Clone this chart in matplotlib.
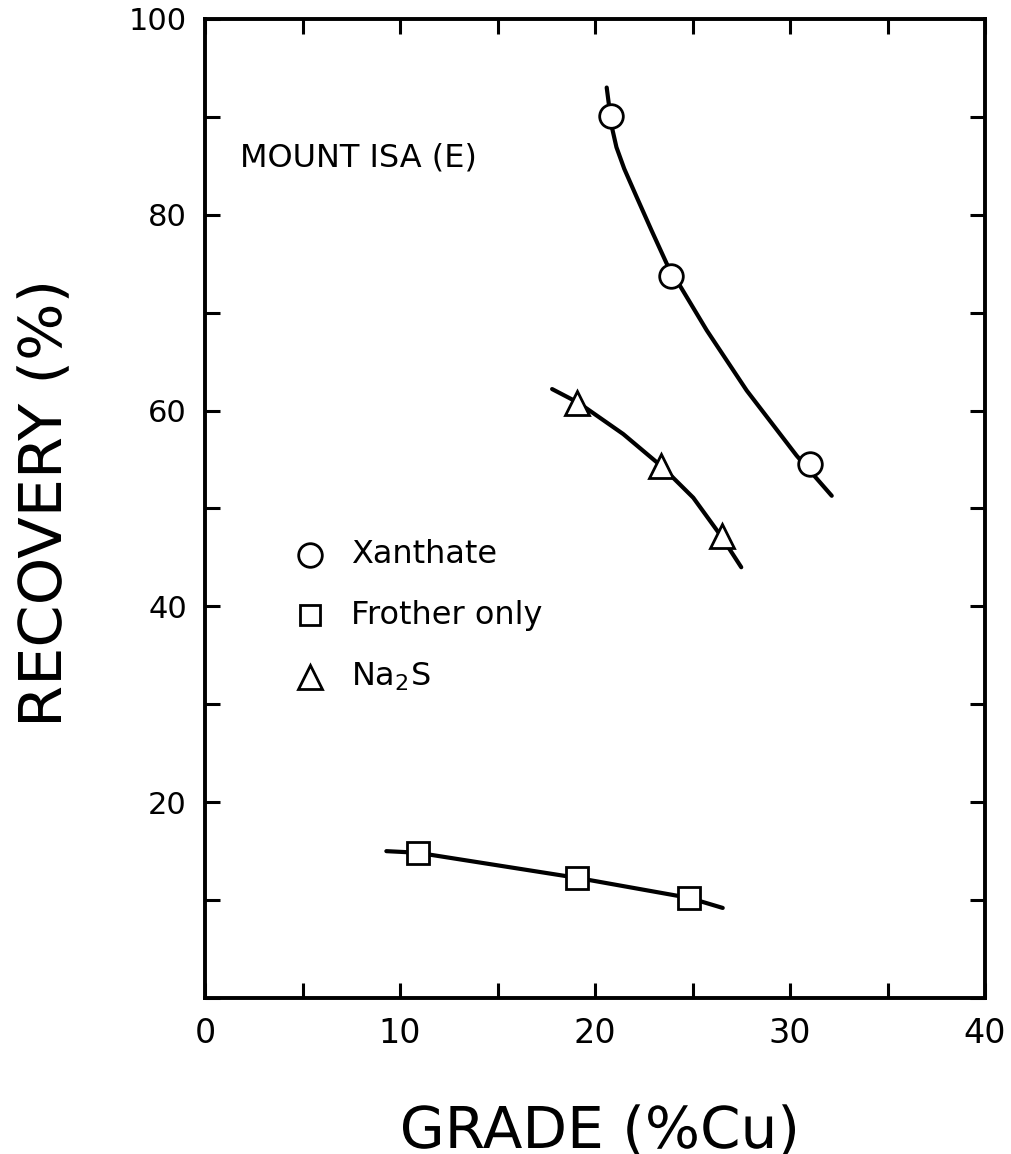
import numpy as np
import matplotlib
matplotlib.use("Agg")
import matplotlib.pyplot as plt
from matplotlib.textpath import TextPath
from matplotlib.patches import PathPatch
from matplotlib.font_manager import FontProperties
from matplotlib.transforms import Affine2D, IdentityTransform

# measured points (grade %Cu, recovery %)
xanthate_x = [20.8, 23.9, 31.0]
xanthate_y = [90.1, 73.7, 54.5]
frother_x = [10.9, 19.1, 24.8]
frother_y = [14.8, 12.3, 10.2]
na2s_x = [19.1, 23.4, 26.5]
na2s_y = [60.8, 54.3, 47.2]

# hand-drawn trend curves through the points
xanthate_curve_x = [20.6, 20.86, 21.1, 21.5, 22.14, 22.9, 23.68, 25.73, 27.78, 30.34, 32.14]
xanthate_curve_y = [93.0, 89.0, 86.9, 84.7, 81.8, 78.4, 75.0, 68.2, 62.05, 55.4, 51.3]
na2s_curve_x = [17.8, 19.15, 21.45, 23.42, 25.04, 26.46, 27.5]
na2s_curve_y = [62.2, 60.8, 57.6, 54.3, 51.1, 47.2, 44.0]
frother_curve_x = [9.3, 10.9, 19.06, 24.82, 26.55]
frother_curve_y = [15.0, 14.84, 12.28, 10.23, 9.2]

labels = ["Xanthate", "Frother only", "Na$_2$S"]
markers = ["o", "s", "^"]
xlabel = "GRADE (%Cu)"
ylabel = "RECOVERY (%)"
title = "MOUNT ISA (E)"

plt.rcParams["mathtext.default"] = "regular"
plt.rcParams["font.family"] = "DejaVu Sans"

W, H = 1012, 1154
fig = plt.figure(figsize=(W / 100, H / 100), dpi=100)
ax = fig.add_axes([205 / W, 1 - 998 / H, 780 / W, 979 / H])

CAP = 0.729  # DejaVu cap height per em


def squeezed_label(text, x0, y0, length, cap_px, rotate=False):
    """Draw text as a path stretched to a given length (pixels, top-left origin)."""
    tp = TextPath((0, 0), text, size=1, prop=FontProperties(family="DejaVu Sans"))
    ext = tp.get_extents()
    sy = cap_px / CAP
    sx = length / ext.width
    tr = Affine2D().translate(-ext.x0, 0).scale(sx, sy)
    if rotate:
        tr = tr.rotate_deg(90).translate(x0, H - y0)
    else:
        tr = tr.translate(x0, H - y0)
    patch = PathPatch(tr.transform_path(tp), facecolor="black", edgecolor="none",
                      transform=IdentityTransform())
    fig.add_artist(patch)


lw = 3.0
ax.plot(xanthate_curve_x, xanthate_curve_y, color="black", lw=lw, solid_capstyle="round",
        solid_joinstyle="round", zorder=2)
ax.plot(na2s_curve_x, na2s_curve_y, color="black", lw=lw, solid_capstyle="round",
        solid_joinstyle="round", zorder=2)
ax.plot(frother_curve_x, frother_curve_y, color="black", lw=lw, solid_capstyle="round",
        solid_joinstyle="round", zorder=2)

mkw = dict(linestyle="none", markerfacecolor="white", markeredgecolor="black",
           markeredgewidth=2.0, zorder=3)
ax.plot(xanthate_x, xanthate_y, marker="o", markersize=17, **mkw)
ax.plot(frother_x, frother_y, marker="s", markersize=16, **mkw)
ax.plot(na2s_x, na2s_y, marker="^", markersize=17, **mkw)

# legend, drawn by hand
leg_y = [45.3, 39.1, 32.8]
for lab, m, yy in zip(labels, markers, leg_y):
    ax.plot([5.4], [yy], marker=m, markersize=17 if m != "s" else 15, linestyle="none",
            markerfacecolor="white", markeredgecolor="black", markeredgewidth=2.0)
    ax.text(7.5, yy, lab, fontsize=23, va="center", ha="left")

ax.text(1.8, 85.8, title, fontsize=23, va="center", ha="left")

ax.set_xlim(0, 40)
ax.set_ylim(0, 100)
ax.set_xticks(np.arange(0, 41, 5))
ax.set_xticklabels(["0", "", "10", "", "20", "", "30", "", "40"])
ax.set_yticks(np.arange(0, 101, 10))
ax.set_yticklabels(["", "", "20", "", "40", "", "60", "", "80", "", "100"])

for s in ax.spines.values():
    s.set_linewidth(2.8)
ax.tick_params(direction="in", length=11, width=2.2, top=True, right=True)
ax.tick_params(axis="x", labelsize=24, pad=14)
ax.tick_params(axis="y", labelsize=22, pad=13)

# axis titles in a condensed lettering
squeezed_label(xlabel, 403, 1148, 392, 42)
squeezed_label(ylabel, 61, 722, 437, 43, rotate=True)

fig.savefig("out.png", dpi=100)
